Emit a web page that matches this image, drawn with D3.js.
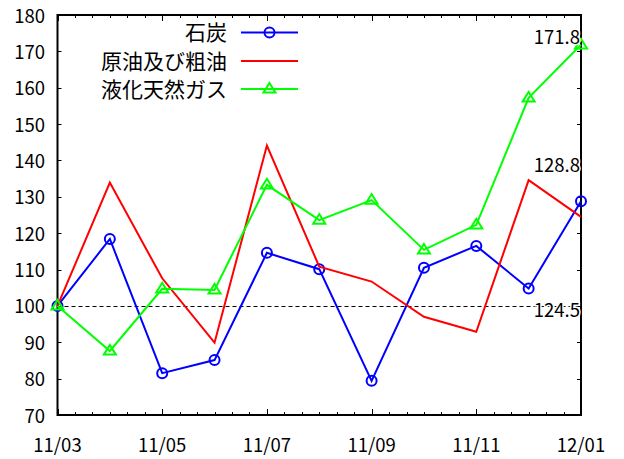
<!DOCTYPE html>
<html><head><meta charset="utf-8">
<script src="https://cdn.jsdelivr.net/npm/d3@7"></script>
<style>
html,body{margin:0;padding:0;background:#fff;}
svg{display:block;}
text{font-family:"Noto Sans CJK JP","Noto Sans",sans-serif;fill:#000;}
</style></head>
<body>
<svg id="chart" width="624" height="459"></svg>
<script>
const months = ["11/03","11/04","11/05","11/06","11/07","11/08","11/09","11/10","11/11","11/12","12/01"];
const xTickLabels = ["11/03","11/05","11/07","11/09","11/11","12/01"];
const yTicks = [70,80,90,100,110,120,130,140,150,160,170,180];
const seriesNames = ["石炭","原油及び粗油","液化天然ガス"];
const coal  = [100,118.4,81.5,85.1,114.6,110.1,79.4,110.5,116.5,104.8,128.8];
const crude = [100,133.9,107.6,89.9,144.1,110.8,106.7,97.0,92.9,134.6,124.5];
const lng   = [100,87.6,104.7,104.4,133.3,123.6,129.1,115.4,122.3,157.2,171.8];
const annotationTexts = ["171.8","128.8","124.5"];
const annotationY = [172.0,136.8,97.0];
const refLine = 100;

const colors = ["#0000ff","#ff0000","#00ff00"];
const markers = ["circle","none","triangle"];
const seriesData = [coal, crude, lng];

const L=57.5, R=581, T=15, B=415;
const svg = d3.select("#chart");
const x = d3.scaleLinear().domain([0, months.length-1]).range([L,R]);
const y = d3.scaleLinear().domain([70,180]).range([B,T]);

// dashed reference line
const ry = Math.round(y(refLine))+0.5;
svg.append("line").attr("x1",L).attr("x2",R).attr("y1",ry).attr("y2",ry)
  .attr("stroke","#000").attr("stroke-width",1).attr("stroke-dasharray","4,3");

// ticks
const minor = d3.range(0, (months.length-1)*3+1).map(i=>i/3);
const tg = svg.append("g").attr("stroke","#000").attr("stroke-width",1);
minor.forEach(v=>{
  const major = Math.abs(v - Math.round(v))<1e-6 && Math.round(v)%2===0;
  const len = major?6:3;
  const px = Math.round(x(v))+0.5;
  tg.append("line").attr("x1",px).attr("x2",px).attr("y1",B).attr("y2",B-len);
  tg.append("line").attr("x1",px).attr("x2",px).attr("y1",T).attr("y2",T+len);
});
yTicks.forEach(v=>{
  const py = Math.round(y(v))+0.5;
  tg.append("line").attr("x1",L).attr("x2",L+4).attr("y1",py).attr("y2",py);
  tg.append("line").attr("x1",R).attr("x2",R-4).attr("y1",py).attr("y2",py);
});

// frame
svg.append("rect").attr("x",L).attr("y",T).attr("width",R-L).attr("height",B-T)
  .attr("fill","none").attr("stroke","#000").attr("stroke-width",2);

// y labels
svg.append("g").selectAll("text").data(yTicks).join("text")
  .attr("x",45).attr("y",d=>y(d)+7.5).attr("text-anchor","end")
  .attr("font-size",18.5).text(d=>d);

// x labels
svg.append("g").selectAll("text").data(xTickLabels).join("text")
  .attr("x",d=>x(months.indexOf(d))).attr("y",452).attr("text-anchor","middle")
  .attr("font-size",18.5).text(d=>d);

// series
const line = d3.line().x((d,i)=>x(i)).y(d=>y(d));
function drawMarker(g, type, cx, cy, color){
  if(type==="circle"){
    g.append("circle").attr("cx",cx).attr("cy",cy).attr("r",5)
      .attr("fill","none").attr("stroke",color).attr("stroke-width",2);
  } else if(type==="triangle"){
    const s=6;
    g.append("path").attr("d",`M${cx},${cy-s}L${cx+s},${cy+s*0.6}L${cx-s},${cy+s*0.6}Z`)
      .attr("fill","none").attr("stroke",color).attr("stroke-width",2);
  }
}
seriesData.forEach((data,k)=>{
  const g = svg.append("g");
  g.append("path").attr("d",line(data)).attr("fill","none")
    .attr("stroke",colors[k]).attr("stroke-width",2);
  data.forEach((v,i)=>drawMarker(g, markers[k], x(i), y(v), colors[k]));
});

// annotations
svg.append("g").selectAll("text").data(annotationTexts).join("text")
  .attr("x",580).attr("y",(d,i)=>y(annotationY[i])).attr("text-anchor","end")
  .attr("font-size",18.5).attr("stroke","#fff").attr("stroke-width",3)
  .attr("paint-order","stroke")
  .text(d=>d);

// legend
const lg = svg.append("g");
const legY = [32.5, 61, 89];
seriesNames.forEach((n,k)=>{
  lg.append("text").attr("x",227).attr("y",legY[k]+7.5).attr("text-anchor","end")
    .attr("font-size",21).text(n);
  lg.append("line").attr("x1",241).attr("x2",298).attr("y1",legY[k]).attr("y2",legY[k])
    .attr("stroke",colors[k]).attr("stroke-width",2);
  drawMarker(lg, markers[k], 269.5, legY[k], colors[k]);
});
</script>
</body></html>
